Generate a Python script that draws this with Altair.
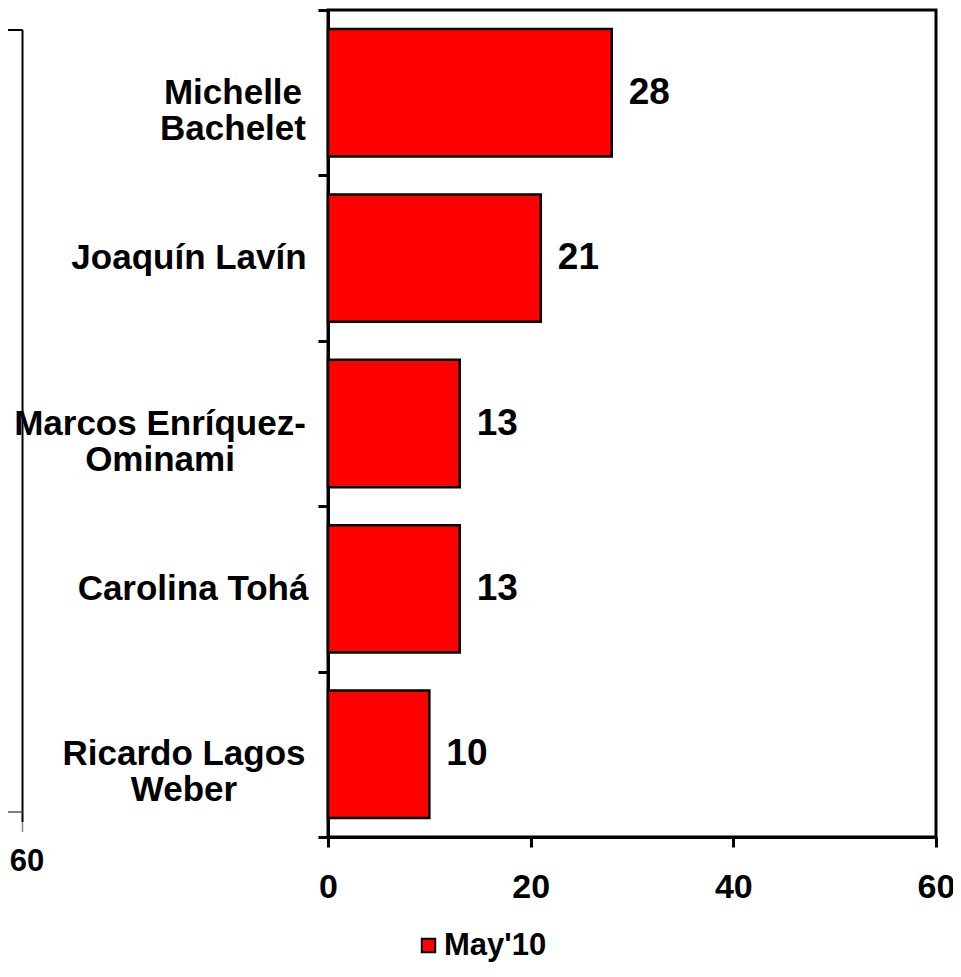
import altair as alt
import pandas as pd

# ---- data ----
labels = ["Michelle|Bachelet", "Joaquín Lavín", "Marcos Enríquez-|Ominami",
          "Carolina Tohá", "Ricardo Lagos|Weber"]
values = [28, 21, 13, 13, 10]
series_name = "May'10"
x_ticks = [0, 20, 40, 60]

df = pd.DataFrame({"label": labels, "value": values, "series": [series_name] * len(labels)})

FONT = "Liberation Sans"

# horizontal centre of each category label block (pixels left of the y axis)
label_centres = [-95, -139, -168, -135, -144]

y_enc = alt.Y(
    "label:N",
    sort=labels,
    title=None,
    scale=alt.Scale(paddingInner=0, paddingOuter=0),
    axis=alt.Axis(
        labels=False,
        tickBand="extent",
        tickSize=10,
        tickWidth=3,
        tickColor="black",
        domainColor="black",
        domainWidth=3,
        grid=False,
    ),
)

x_enc = alt.X(
    "value:Q",
    title=None,
    scale=alt.Scale(domain=[0, 60]),
    axis=alt.Axis(
        values=x_ticks,
        orient="bottom",
        labelFlush=False,
        labelFont=FONT,
        labelFontSize=34,
        labelFontWeight="bold",
        labelColor="black",
        labelPadding=23,
        tickSize=10,
        tickWidth=3,
        tickColor="black",
        domainColor="black",
        domainWidth=3,
        grid=False,
    ),
)

base = alt.Chart(df)

bars = base.mark_bar(stroke="black", strokeWidth=2.5, height={"band": 0.77}).encode(
    y=y_enc,
    x=x_enc,
    color=alt.Color(
        "series:N",
        scale=alt.Scale(range=["#ff0000"]),
        legend=alt.Legend(
            title=None,
            orient="none",
            legendX=85,
            legendY=920,
            padding=0,
            symbolType="square",
            symbolSize=180,
            symbolStrokeColor="black",
            symbolStrokeWidth=2,
            symbolOpacity=1,
            labelFont=FONT,
            labelFontSize=31,
            labelFontWeight="bold",
            labelColor="black",
            labelOffset=0,
        ),
    ),
)

texts = base.mark_text(
    align="left", baseline="middle", dx=17, font=FONT, fontSize=37,
    fontWeight="bold", color="black",
).encode(y=alt.Y("label:N", sort=labels), x="value:Q", text="value:Q")

label_layers = [
    base.transform_filter(alt.datum.label == lab).mark_text(
        align="center", baseline="middle", lineBreak="|", lineHeight=36,
        font=FONT, fontSize=35, fontWeight="bold", color="black", dx=cx,
    ).encode(y=alt.Y("label:N", sort=labels), x=alt.value(0), text="label:N")
    for lab, cx in zip(labels, label_centres)
]

# decorations: edge of neighbouring panel visible at left
deco_data = alt.Data(values=[{"k": 0}])
left_v = alt.Chart(deco_data).mark_rule(color="black", strokeWidth=2).encode(
    x=alt.value(-305.5), y=alt.value(20), y2=alt.value(812))
left_tick = alt.Chart(deco_data).mark_rule(color="#888888", strokeWidth=1.5).encode(
    x=alt.value(-305.5), y=alt.value(812), y2=alt.value(822))
left_top = alt.Chart(deco_data).mark_rule(color="black", strokeWidth=2).encode(
    x=alt.value(-327), x2=alt.value(-305.5), y=alt.value(20))
left_bot = alt.Chart(deco_data).mark_rule(color="#555555", strokeWidth=1.5).encode(
    x=alt.value(-327), x2=alt.value(-305.5), y=alt.value(802))
left_60 = alt.Chart(deco_data).mark_text(
    text="60", font=FONT, fontSize=31, fontWeight="bold", color="black",
    align="center", baseline="middle").encode(x=alt.value(-301), y=alt.value(852))

chart = alt.layer(bars, texts, *label_layers, left_v, left_tick, left_top, left_bot, left_60).properties(
    width=608,
    height=827,
    autosize=alt.AutoSizeParams(type="none"),
    padding={"left": 320, "top": 2, "right": 17, "bottom": 126},
    background="white",
).configure_view(
    stroke="black", strokeWidth=3
)

chart.save("out.html", embed_options={"renderer": "svg", "actions": False})
